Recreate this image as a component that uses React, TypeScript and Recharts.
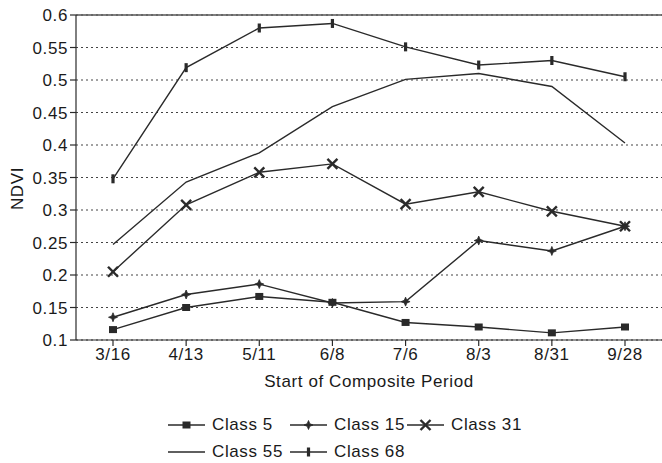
import React from 'react';
import { LineChart, Line, XAxis, YAxis, CartesianGrid, ReferenceLine } from 'recharts';

const categories = ['3/16', '4/13', '5/11', '6/8', '7/6', '8/3', '8/31', '9/28'];
const class5 = [0.116, 0.15, 0.167, 0.158, 0.127, 0.12, 0.111, 0.12];
const class15 = [0.135, 0.17, 0.186, 0.157, 0.159, 0.253, 0.237, 0.275];
const class31 = [0.205, 0.308, 0.358, 0.371, 0.309, 0.328, 0.298, 0.275];
const class55 = [0.247, 0.343, 0.388, 0.459, 0.501, 0.51, 0.49, 0.403];
const class68 = [0.348, 0.519, 0.58, 0.587, 0.551, 0.523, 0.53, 0.505];
const yTicks = [0.1, 0.15, 0.2, 0.25, 0.3, 0.35, 0.4, 0.45, 0.5, 0.55, 0.6];

const seriesNames = ['Class 5', 'Class 15', 'Class 31', 'Class 55', 'Class 68'];
const seriesKeys = ['c5', 'c15', 'c31', 'c55', 'c68'];
const seriesValues = [class5, class15, class31, class55, class68];

const data = categories.map((c, i) => {
  const row: Record<string, any> = { name: c };
  seriesKeys.forEach((k, j) => {
    row[k] = seriesValues[j][i];
  });
  return row;
});

const INK = '#2a2a2a';
const TEXT = '#1a1a1a';
const FONT = '"Liberation Sans", Arial, Helvetica, sans-serif';
const LS = 0.6;

type MarkerKind = 'square' | 'star' | 'x' | 'none' | 'bar';
const markerKinds: MarkerKind[] = ['square', 'star', 'x', 'none', 'bar'];

function MarkerShape({ kind, cx, cy }: { kind: MarkerKind; cx: number; cy: number }) {
  if (kind === 'square') {
    return <rect x={cx - 4} y={cy - 3.5} width={8} height={7} fill={INK} />;
  }
  if (kind === 'star') {
    const r = 4.5;
    const s = 1.3;
    const d = `M${cx},${cy - r} L${cx + s},${cy - s} L${cx + r},${cy} L${cx + s},${cy + s} L${cx},${cy + r} L${cx - s},${cy + s} L${cx - r},${cy} L${cx - s},${cy - s} Z`;
    return <path d={d} fill={INK} stroke={INK} strokeWidth={0.8} />;
  }
  if (kind === 'x') {
    const r = 5;
    return (
      <g stroke={INK} strokeWidth={2.4}>
        <line x1={cx - r} y1={cy - r} x2={cx + r} y2={cy + r} />
        <line x1={cx - r} y1={cy + r} x2={cx + r} y2={cy - r} />
      </g>
    );
  }
  if (kind === 'bar') {
    return <rect x={cx - 1.6} y={cy - 4.5} width={3.2} height={9} fill={INK} />;
  }
  return null;
}

function makeDot(kind: MarkerKind) {
  return (props: any) => {
    const { cx, cy, index } = props;
    if (kind === 'none' || cx == null || cy == null) return <g key={`d-${kind}-${index}`} />;
    return (
      <g key={`d-${kind}-${index}`}>
        <MarkerShape kind={kind} cx={cx} cy={cy} />
      </g>
    );
  };
}

function LegendIcon({ kind }: { kind: MarkerKind }) {
  return (
    <svg width={37} height={12} style={{ display: 'block' }}>
      <line x1={0} y1={6} x2={37} y2={6} stroke={INK} strokeWidth={1.4} />
      <MarkerShape kind={kind} cx={18.5} cy={6} />
    </svg>
  );
}

const legendRows = [
  [0, 1, 2],
  [3, 4],
];
const colWidths = [122, 117, 130];

const renderYLabel = (props: any) => {
  const vb = props.viewBox || {};
  const x = (vb.x ?? 0) + 17;
  const y = (vb.y ?? 0) + (vb.height ?? 0) / 2 + 11;
  return (
    <text x={x} y={y} transform={`rotate(-90 ${x} ${y})`} textAnchor="middle" dominantBaseline="central" fill={TEXT} fontSize={17} fontFamily={FONT} letterSpacing={LS}>
      NDVI
    </text>
  );
};

const tickStyle = { fill: TEXT, fontSize: 17, fontFamily: FONT, letterSpacing: LS };

export default function App() {
  return (
    <div style={{ position: 'absolute', left: 0, top: 0, width: 662, height: 463, background: '#fff', fontFamily: FONT }}>
      <LineChart width={662} height={463} data={data} margin={{ top: 15, right: 0, left: 0, bottom: 73 }}>
        <CartesianGrid vertical={false} stroke="#444" strokeDasharray="2 3" strokeWidth={1.2} />
        <ReferenceLine y={0.6} stroke="#555" strokeWidth={1.5} />
        <XAxis
          dataKey="name"
          stroke={INK}
          strokeWidth={1.2}
          tickSize={6}
          tickMargin={2}
          height={50}
          padding={{ left: 37, right: 37 }}
          interval={0}
          tick={tickStyle}
          label={{ value: 'Start of Composite Period', position: 'insideBottom', offset: 3, fill: TEXT, fontSize: 17, fontFamily: FONT, letterSpacing: LS }}
        />
        <YAxis
          domain={[0.1, 0.6]}
          ticks={yTicks}
          tickFormatter={(v: number) => String(v)}
          width={76}
          stroke={INK}
          strokeWidth={1.2}
          tickSize={6}
          tickMargin={2}
          interval={0}
          tick={tickStyle}
          label={renderYLabel}
        />
        {seriesKeys.map((k, j) => (
          <Line
            key={k}
            type="linear"
            dataKey={k}
            name={seriesNames[j]}
            stroke={INK}
            strokeWidth={1.4}
            dot={makeDot(markerKinds[j])}
            activeDot={false}
            isAnimationActive={false}
          />
        ))}
      </LineChart>
      <div style={{ position: 'absolute', left: 168, top: 411, color: TEXT, fontSize: 17, fontFamily: FONT, letterSpacing: LS }}>
        {legendRows.map((row, ri) => (
          <div key={ri} style={{ display: 'flex', height: 27, alignItems: 'center' }}>
            {row.map((si, ci) => (
              <div key={si} style={{ display: 'flex', alignItems: 'center', width: colWidths[ci] }}>
                <LegendIcon kind={markerKinds[si]} />
                <span style={{ marginLeft: 7, whiteSpace: 'nowrap' }}>{seriesNames[si]}</span>
              </div>
            ))}
          </div>
        ))}
      </div>
    </div>
  );
}
